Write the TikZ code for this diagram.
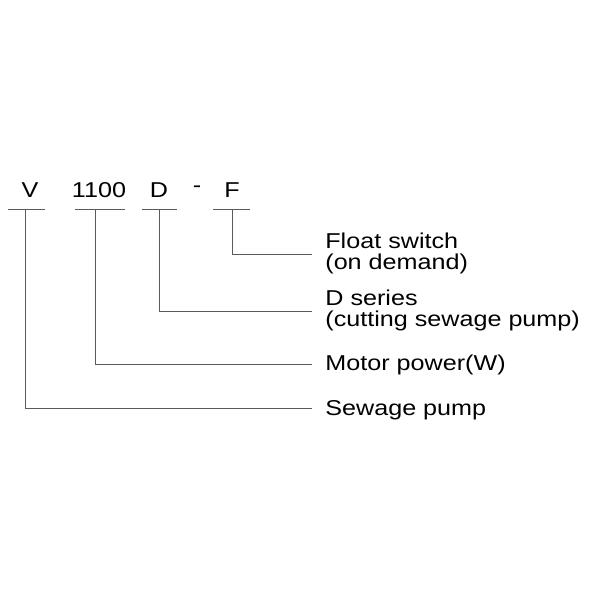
\documentclass[tikz,border=0pt]{standalone}
\usepackage{fontspec}
\setmainfont{Liberation Sans}[FakeStretch=1.17]
\tikzset{every picture/.style={line width=0.75pt}}
\tikzset{
	code/.style={font=\fontsize{21.5}{24}\selectfont, inner sep=0pt},
	desc/.style={font=\fontsize{21.5}{24}\selectfont, anchor=west, inner sep=0pt, align=left},
	lead/.style={draw={rgb, 255:red, 90; green, 90; blue, 90 }, line width=0.9pt}}

\begin{document}
\begin{tikzpicture}[x=1pt,y=1pt,yscale=-1,xscale=1]
	\useasboundingbox (0,0) rectangle (600,600);

	% Code letters
	\node[code] (v) at (30,190) {V};
	\node[code] (pw) at (99,190) {1100};
	\node[code] (d) at (159,190) {D};
	\node[code] (dash) at (197,191) {\raisebox{0.12em}{-}};
	\node[code] (f) at (232,190) {F};

	% Underlines
	\draw[lead] (8,209) -- (45,209);
	\draw[lead] (75,209) -- (125,209);
	\draw[lead] (142,209) -- (177,209);
	\draw[lead] (213,209) -- (250,209);

	% Descriptions
	\node[desc] (tf) at (325,253) {Float switch\\[-3pt](on demand)};
	\node[desc] (td) at (325,310) {D series\\[-3pt](cutting sewage pump)};
	\node[desc] (tm) at (325,365) {Motor power(W)};
	\node[desc] (ts) at (325,410) {Sewage pump};

	% Leaders
	\coordinate (cf) at (232,209);
	\coordinate (cd) at (159,209);
	\coordinate (cm) at (95,209);
	\coordinate (cs) at (25,209);
	\draw[lead] (cf) |- (312,254);
	\draw[lead] (cd) |- (312,311);
	\draw[lead] (cm) |- (312,364);
	\draw[lead] (cs) |- (312,408);
\end{tikzpicture}
\end{document}
